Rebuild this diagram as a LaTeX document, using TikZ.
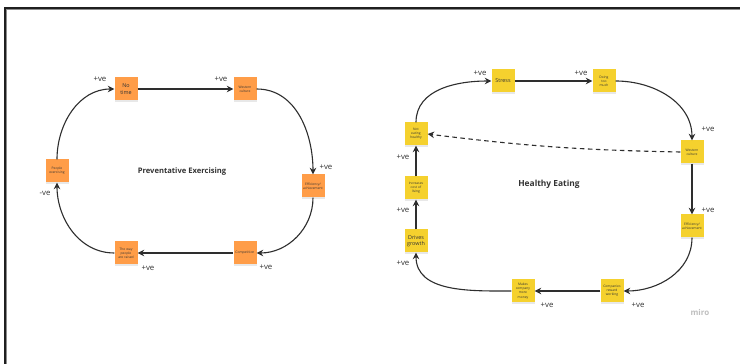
\documentclass[tikz,border=0pt]{standalone}
\usepackage{fontspec}
\setmainfont{Open Sans}
\usetikzlibrary{arrows.meta,shadows}
\definecolor{stickyorange}{HTML}{FF9D48}
\definecolor{stickyyellow}{HTML}{F5D12E}
\definecolor{linegray}{HTML}{2E2E2E}
\definecolor{textgray}{HTML}{333333}
\tikzset{
  sticky/.style={minimum width=23pt,minimum height=23pt,inner sep=0.5pt,
    align=center,text width=21.5pt,text=textgray,
    drop shadow={opacity=0.18,shadow xshift=0pt,shadow yshift=-1.6pt}},
  orangenote/.style={sticky,fill=stickyorange},
  yellownote/.style={sticky,fill=stickyyellow},
  tinytext/.style={font=\fontsize{3.3}{4.1}\selectfont},
  smalltext/.style={font=\fontsize{5.4}{6.6}\selectfont},
  link/.style={draw=linegray,line width=1.1pt,-{Stealth[length=6.5pt,width=6.5pt]}},
  polarity/.style={font=\fontsize{7.8}{9}\selectfont,text=textgray,inner sep=0pt},
  looptitle/.style={font=\fontsize{7.6}{9}\selectfont\bfseries,text=textgray}
}
\begin{document}
\begin{tikzpicture}[x=1pt,y=1pt]
\useasboundingbox (0,0) rectangle (740,364);
\fill[white] (0,0) rectangle (740,364);
% window frame
\draw[line width=2pt,draw=black!88] (740,356) -- (4.5,356) -- (4.5,0);
\draw[line width=0.8pt,draw=black!45] (740,354.2) -- (6.3,354.2) -- (6.3,0);

% ---------- Preventative Exercising ----------
\node[orangenote,smalltext] (nt) at (126,275) {No\\time};
\node[orangenote,tinytext] (wc) at (245,275) {Western\\culture};
\node[orangenote,tinytext] (ef) at (313,178) {Efficiency/\\achievement};
\node[orangenote,tinytext] (co) at (245,111) {Competition};
\node[orangenote,tinytext] (wr) at (126,111) {The way\\people\\are raised};
\node[orangenote,tinytext] (pe) at (57,193) {People\\exercising};

\draw[link] (pe.north) to[out=90,in=180] (nt.west);
\draw[link] (nt.east) -- (wc.west);
\draw[link] (wc.east) to[out=0,in=90] (ef.north);
\draw[link] (ef.south) to[out=-90,in=0] (co.east);
\draw[link] (co.west) -- (wr.east);
\draw[link] (wr.west) to[out=180,in=-90] (pe.south);

\node[polarity] (p1) at (100,285) {+ve};
\node[polarity] (p2) at (221,285) {+ve};
\node[polarity] (p3) at (326,197) {+ve};
\node[polarity] (p4) at (266,97) {+ve};
\node[polarity] (p5) at (148,96) {+ve};
\node[polarity] (p6) at (45,171) {-ve};

\node[looptitle] (t1) at (182,192) {Preventative Exercising};

% ---------- Healthy Eating ----------
\node[yellownote,smalltext] (st) at (503,283) {Stress};
\node[yellownote,tinytext] (dt) at (604,283) {Doing\\too\\much};
\node[yellownote,tinytext] (wc2) at (692,212) {Western\\culture};
\node[yellownote,tinytext] (ef2) at (692,138) {Efficiency/\\achievement};
\node[yellownote,tinytext] (cr) at (612,73) {Companies\\reward\\working};
\node[yellownote,tinytext] (mm) at (523,73) {Makes\\company\\more\\money};
\node[yellownote,smalltext] (dg) at (416,123) {Drives\\growth};
\node[yellownote,tinytext] (ic) at (416,176) {Increases\\cost of\\living};
\node[yellownote,tinytext] (ne) at (416,230) {Not\\eating\\healthy};

\draw[link] (ne.north) to[out=90,in=180] (st.west);
\draw[link] (st.east) -- (dt.west);
\draw[link] (dt.east) to[out=0,in=90] (wc2.north);
\draw[link] (wc2.south) -- (ef2.north);
\draw[link] (ef2.south) to[out=-90,in=0] (cr.east);
\draw[link] (cr.west) -- (mm.east);
\draw[link] (mm.west) to[out=180,in=-90] (dg.south);
\draw[link] (dg.north) -- (ic.south);
\draw[link] (ic.north) -- (ne.south);
\draw[link,dash pattern=on 4.5pt off 3.5pt] (wc2.west) to[bend left=3] (ne.east);

\node[polarity] (q1) at (480,291) {+ve};
\node[polarity] (q2) at (581,291) {+ve};
\node[polarity] (q3) at (708,235) {+ve};
\node[polarity] (q4) at (708,154) {+ve};
\node[polarity] (q5) at (638,59) {+ve};
\node[polarity] (q6) at (547,59) {+ve};
\node[polarity] (q7) at (403,101) {+ve};
\node[polarity] (q8) at (403,154) {+ve};
\node[polarity] (q9) at (403,207) {+ve};

\node[looptitle,font=\fontsize{8.4}{9}\selectfont\bfseries] (t2) at (549,180) {Healthy Eating};

\node[font=\fontsize{8}{9}\selectfont\bfseries,text=black!25] (wm) at (700,51) {miro};
\end{tikzpicture}
\end{document}
